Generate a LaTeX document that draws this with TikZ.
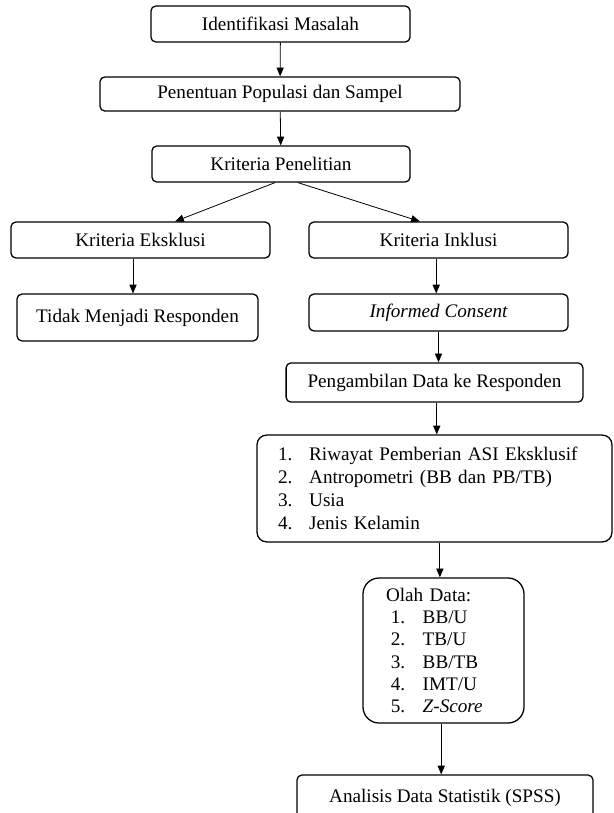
\documentclass[tikz,border=0pt]{standalone}
\usepackage{fontspec}
\setmainfont{Liberation Serif}
\usepackage{tikz}
\usetikzlibrary{arrows.meta}

\begin{document}
\begin{tikzpicture}[x=0.022cm,y=-0.022cm,>={Triangle[length=5.5pt,width=4.5pt]}]
            \tikzstyle{every node} = [draw=black,line width=0.8pt,rounded corners=3pt,font=\fontsize{12}{14.5}\selectfont,inner sep=0pt];
            \tikzstyle{flow} = [->,line width=0.5pt];
            \useasboundingbox (0,0) rectangle (613,813);
            \node[minimum width=5.70cm,minimum height=0.79cm] (ident) at (280.5,24) {Identifikasi Masalah};
            \node[minimum width=7.92cm,minimum height=0.75cm] (pop) at (280,94) {Penentuan Populasi dan Sampel};
            \node[minimum width=5.68cm,minimum height=0.79cm] (krit) at (281,164) {Kriteria Penelitian};
            \node[minimum width=5.70cm,minimum height=0.79cm] (ekskl) at (140.5,240) {Kriteria Eksklusi};
            \node[minimum width=5.70cm,minimum height=0.79cm] (inkl) at (438.5,240) {Kriteria Inklusi};
            \node[minimum width=5.30cm,minimum height=1.03cm] (tidak) at (137.5,317.5) {Tidak Menjadi Responden};
            \node[minimum width=5.70cm,minimum height=0.81cm] (consent) at (438.5,312.5) {\itshape Informed Consent};
            \node[minimum width=6.53cm,minimum height=0.86cm] (ambil) at (434.5,382.5) {Pengambilan Data ke Responden};
            \node[rounded corners=6pt,text width=6.886cm,inner xsep=0.462cm,minimum height=2.35cm,align=left] (riwayat) at (434.5,488.5)
                {\makebox[19.5pt][l]{1.}Riwayat Pemberian ASI Eksklusif\\
                 \makebox[19.5pt][l]{2.}Antropometri (BB dan PB/TB)\\
                 \makebox[19.5pt][l]{3.}Usia\\
                 \makebox[19.5pt][l]{4.}Jenis Kelamin};
            \node[rounded corners=10pt,text width=2.53cm,inner xsep=0.506cm,minimum height=3.19cm,align=left,
                  font=\fontsize{12}{14}\selectfont] (olah) at (443.5,650.5)
                {Olah Data:\\
                 \hspace*{3pt}\makebox[20pt][l]{1.}BB/U\\
                 \hspace*{3pt}\makebox[20pt][l]{2.}TB/U\\
                 \hspace*{3pt}\makebox[20pt][l]{3.}BB/TB\\
                 \hspace*{3pt}\makebox[20pt][l]{4.}IMT/U\\
                 \hspace*{3pt}\makebox[20pt][l]{5.}\textit{Z-Score}};
            \node[minimum width=6.51cm,minimum height=1.01cm] (analisis) at (445,798) {Analisis Data Statistik (SPSS)};
            \draw[flow] (ident) -- (pop);
            \draw[flow] (pop) -- (krit);
            \draw[flow] ([xshift=-0.13cm]krit.south) -- ([xshift=0.76cm]ekskl.north);
            \draw[flow] ([xshift=0.37cm]krit.south) -- ([xshift=-0.41cm]inkl.north);
            \draw[flow] ([xshift=-0.165cm]ekskl.south) -- ([xshift=-0.165cm]ekskl.south |- tidak.north);
            \draw[flow] ([xshift=-0.05cm]inkl.south) -- ([xshift=-0.05cm]consent.north);
            \draw[flow] (consent.south) -- (consent.south |- ambil.north);
            \draw[flow] ([xshift=0.05cm]ambil.south) -- ([xshift=0.05cm]ambil.south |- riwayat.north);
            \draw[flow] ([xshift=-0.08cm]olah.north |- riwayat.south) -- ([xshift=-0.08cm]olah.north);
            \draw[flow] ([xshift=-0.05cm]olah.south) -- ([xshift=-0.05cm]olah.south |- analisis.north);
        \end{tikzpicture}
\end{document}
